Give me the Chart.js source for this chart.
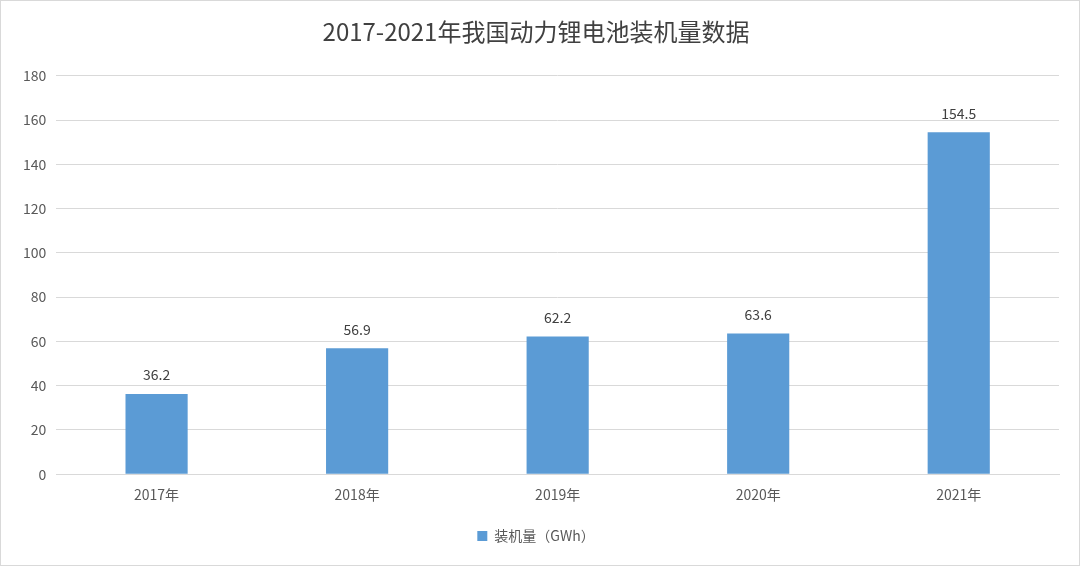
<!DOCTYPE html>
<html><head><meta charset="utf-8">
<script src="https://cdn.jsdelivr.net/npm/chart.js@4"></script>
<style>html,body{margin:0;padding:0;background:#fff}#w{width:1078px;height:564px;border:1px solid #d9d9d9}</style>
</head><body><div id="w"><canvas id="c"></canvas></div>
<script>
const categories=["2017年","2018年","2019年","2020年","2021年"];
const values=[36.2,56.9,62.2,63.6,154.5];
const seriesName="装机量（GWh）";
const font="'Noto Sans CJK SC','Noto Sans',sans-serif";
const labels={id:'lbl',afterDatasetsDraw(ch){const c=ch.ctx;c.save();c.font="14px "+font;c.fillStyle="#404040";c.textAlign="center";c.textBaseline="bottom";
ch.getDatasetMeta(0).data.forEach((b,i)=>c.fillText(values[i].toFixed(1),b.x,b.y-12));c.restore();}};
new Chart(document.getElementById('c'),{type:'bar',
data:{labels:categories,datasets:[{label:seriesName,data:values,backgroundColor:'#5B9BD5',barPercentage:0.31,categoryPercentage:1}]},
options:{responsive:true,maintainAspectRatio:false,animation:false,
layout:{padding:{left:12,right:20,top:4,bottom:12}},
plugins:{title:{display:true,text:'2017-2021年我国动力锂电池装机量数据',color:'#404040',font:{family:font,size:24,weight:'normal'},padding:{top:12,bottom:30}},
legend:{position:'bottom',labels:{color:'#595959',font:{family:font,size:14},boxWidth:10,boxHeight:10,padding:22}},tooltip:{enabled:false}},
scales:{x:{grid:{display:false},border:{color:'#d9d9d9'},ticks:{color:'#595959',font:{family:font,size:14},padding:4}},
y:{min:0,max:180,ticks:{stepSize:20,color:'#595959',font:{family:font,size:14},padding:10},grid:{color:'#d9d9d9',drawTicks:false},border:{display:false}}}},
plugins:[labels]});
</script></body></html>
